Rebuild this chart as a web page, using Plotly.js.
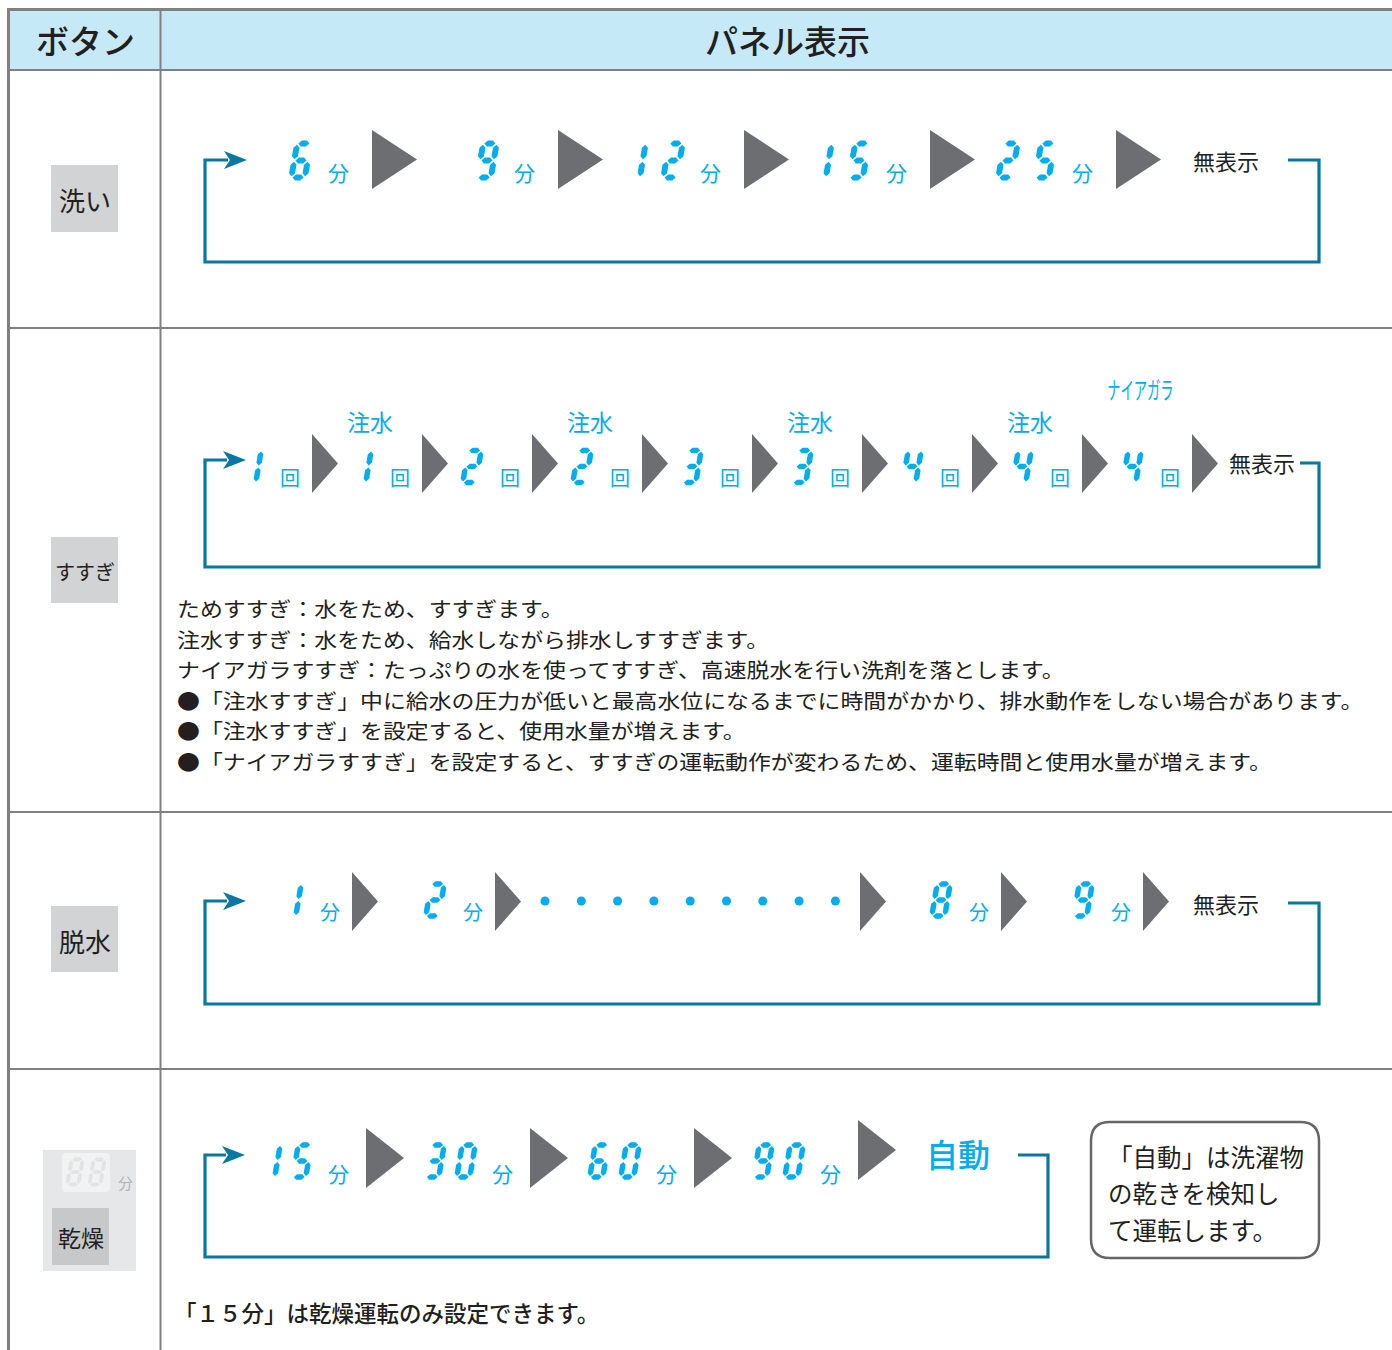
<!DOCTYPE html>
<html><head><meta charset="utf-8">
<script src="https://cdn.plot.ly/plotly-3.0.1.min.js"></script>
<style>body{margin:0;background:#fff}#c{width:1392px;height:1350px}</style>
</head><body><div id="c"></div>
<script>
// ---------- DATA ----------
const headerLabels = ['ボタン', 'パネル表示'];
const buttons = ['洗い', 'すすぎ', '脱水', '乾燥'];
const washSteps = ['6', '9', '12', '15', '25'];
const washUnit = '分';
const rinseSteps = ['1', '1', '2', '2', '3', '3', '4', '4', '4'];
const rinseUnit = '回';
const rinseModes = ['', '注水', '', '注水', '', '注水', '', '注水', 'ナイアガラ'];
const spinSteps = ['1', '2', '…', '8', '9'];
const spinUnit = '分';
const drySteps = ['15', '30', '60', '90'];
const dryUnit = '分';
const endLabel = '無表示';
const dryEnd = '自動';
const rinseNotes = [
  'ためすすぎ：水をため、すすぎます。',
  '注水すすぎ：水をため、給水しながら排水しすすぎます。',
  'ナイアガラすすぎ：たっぷりの水を使ってすすぎ、高速脱水を行い洗剤を落とします。',
  '●「注水すすぎ」中に給水の圧力が低いと最高水位になるまでに時間がかかり、排水動作をしない場合があります。',
  '●「注水すすぎ」を設定すると、使用水量が増えます。',
  '●「ナイアガラすすぎ」を設定すると、すすぎの運転動作が変わるため、運転時間と使用水量が増えます。'
];
const dryBoxLines = ['「自動」は洗濯物', 'の乾きを検知し', 'て運転します。'];
const dryNote = '「１５分」は乾燥運転のみ設定できます。';
const panelDigits = '88';
const panelUnit = '分';

// ---------- STYLE ----------
const FONT = 'Noto Sans CJK JP, Noto Sans, sans-serif';
const CYAN = '#00aeef', LOOP = '#0a77a3', TRI = '#6d6e71', INK = '#231f20', GRID = '#808080';

const shapes = [];
const anns = [];
function ann(text, x, y, size, color, o, weight) {
  o = o || {};
  anns.push(Object.assign({text: text, x: x, y: y, xref: 'x', yref: 'y', showarrow: false,
    xanchor: 'center', yanchor: 'middle', font: {family: FONT, size: size, color: color, weight: weight || 400}}, o));
}
function rect(x0, y0, x1, y1, fill, line) {
  shapes.push({type: 'rect', xref: 'x', yref: 'y', x0: x0, y0: y0, x1: x1, y1: y1,
    fillcolor: fill || 'rgba(0,0,0,0)', line: line || {width: 0}, layer: 'below'});
}
function line(x0, y0, x1, y1, color, w) {
  shapes.push({type: 'line', xref: 'x', yref: 'y', x0: x0, y0: y0, x1: x1, y1: y1, line: {color: color, width: w}});
}
function path(d, fill, lineSpec) {
  shapes.push({type: 'path', xref: 'x', yref: 'y', path: d, fillcolor: fill || 'rgba(0,0,0,0)',
    line: lineSpec || {width: 0}});
}

// seven segment digits
const SEG = {a: [[0,0],[1,0]], b: [[1,0],[1,.5]], c: [[1,.5],[1,1]], d: [[0,1],[1,1]],
             e: [[0,.5],[0,1]], f: [[0,0],[0,.5]], g: [[0,.5],[1,.5]]};
const MAP = {'0':'abcdef','1':'bc','2':'abged','3':'abgcd','4':'fgbc','5':'afgcd',
             '6':'afgedc','7':'abc','8':'abcdefg','9':'abcdfg'};
function digitPath(ch, cx, cy, W, H, t, s) {
  let d = '';
  const segs = MAP[ch] || '';
  const tf = (u, v) => [cx + (u - W/2) + (H/2 - v) * s, cy + (v - H/2)];
  for (const k of segs) {
    const [[a1, b1], [a2, b2]] = SEG[k];
    const P1 = [a1 * W, b1 * H], P2 = [a2 * W, b2 * H];
    const L = Math.hypot(P2[0]-P1[0], P2[1]-P1[1]);
    const dx = (P2[0]-P1[0]) / L, dy = (P2[1]-P1[1]) / L;
    const nx = -dy, ny = dx;
    const gp = t * 0.2, h = t / 2;
    const p1 = [P1[0] + dx*gp, P1[1] + dy*gp], p2 = [P2[0] - dx*gp, P2[1] - dy*gp];
    const pts = [p1,
      [p1[0]+dx*h+nx*h, p1[1]+dy*h+ny*h],
      [p2[0]-dx*h+nx*h, p2[1]-dy*h+ny*h],
      p2,
      [p2[0]-dx*h-nx*h, p2[1]-dy*h-ny*h],
      [p1[0]+dx*h-nx*h, p1[1]+dy*h-ny*h]];
    d += pts.map((p, i) => { const q = tf(p[0], p[1]); return (i ? 'L' : 'M') + q[0].toFixed(2) + ',' + q[1].toFixed(2); }).join('') + 'Z';
  }
  return d;
}
function number(str, onesCx, cy, g, color) {
  const chars = str.split('').reverse();
  chars.forEach((ch, i) => {
    const dp = digitPath(ch, onesCx - i * g.pitch, cy, g.W, g.H, g.t, g.s);
    if (dp) path(dp, color || CYAN);
  });
}
function triangle(x, yc, w, h) {
  path('M' + x + ',' + (yc - h/2) + 'L' + (x + w) + ',' + yc + 'L' + x + ',' + (yc + h/2) + 'Z', TRI);
}
function loop(tipX, y, bottom, right, yEnd, endX) {
  const back = tipX - 19;
  path('M' + back + ',' + y + 'L205,' + y + 'L205,' + bottom + 'L' + right + ',' + bottom +
       'L' + right + ',' + yEnd + 'L' + endX + ',' + yEnd, null, {color: LOOP, width: 3.2});
  path('M' + tipX + ',' + y + 'L' + (tipX - 23) + ',' + (y - 9) + 'L' + (tipX - 17) + ',' + y +
       'L' + (tipX - 23) + ',' + (y + 9) + 'Z', LOOP);
}

// ---------- TABLE ----------
const rowLines = [70, 328, 812, 1069];
rect(9, 10, 1400, 70, '#c6e9f8');
line(7, 9.5, 1400, 9.5, GRID, 3);
line(8.5, 8, 8.5, 1360, GRID, 3);
rowLines.forEach(y => line(8, y, 1400, y, GRID, 2));
line(160.5, 9, 160.5, 1360, GRID, 2);
ann(headerLabels[0], 85, 40, 33, INK, null, 500);
ann(headerLabels[1], 787, 40, 33, INK, null, 500);

// button label boxes
const btnBoxes = [[51, 165, 118, 232], [51, 537, 118, 603], [51, 906, 118, 972]];
const btnSizes = [26, 20, 26];
btnBoxes.forEach((b, i) => {
  rect(b[0], b[1], b[2], b[3], '#d1d3d4');
  ann(buttons[i], (b[0] + b[2]) / 2, (b[1] + b[3]) / 2 + 1, btnSizes[i], INK);
});
// dry panel
rect(43, 1150, 136, 1271, '#e6e7e8');
path('M66,1153L106,1153Q110,1153 110,1157L110,1188Q110,1192 106,1192L66,1192Q62,1192 62,1188L62,1157Q62,1153 66,1153Z', '#f1f2f2');
panelDigits.split('').forEach((ch, i) => {
  path(digitPath(ch, 75 + i * 22, 1172, 11, 25, 4, 0.17), '#e2e3e4');
});
ann(panelUnit, 125, 1182, 15, '#b1b3b6');
rect(52, 1208, 109, 1265, '#c7c8ca');
ann(buttons[3], 80.5, 1237, 23, INK);

// ---------- ROW 1: 洗い ----------
const g1 = {W: 13.5, H: 34, t: 6, s: 0.17, pitch: 37};
washSteps.forEach((v, i) => {
  const T = 372 + i * 186;
  number(v, T - 71, 160.5, g1);
  ann(washUnit, T - 34, 172, 21, CYAN);
  triangle(T, 159.5, 45, 59);
});
ann(endLabel, 1226, 160, 22, INK);
loop(247, 160, 262, 1319, 160, 1288);

// ---------- ROW 2: すすぎ ----------
const g2 = {W: 13, H: 32, t: 5.5, s: 0.17, pitch: 30};
rinseSteps.forEach((v, i) => {
  const T = 312 + i * 110;
  number(v, T - 60, 466.5, g2);
  ann(rinseUnit, T - 22, 477, 20, CYAN);
  triangle(T, 463.5, 26, 59);
  const m = rinseModes[i];
  if (m === '注水') ann(m, T - 52, 421, 23, CYAN);
  else if (m) ann(m, T - 52, 388, 17, CYAN);
});
ann(endLabel, 1262, 462, 22, INK);
loop(246, 460, 567, 1319, 463, 1300);
rinseNotes.forEach((s, i) => ann(s, 175, 608 + i * 30.6, 20.8, INK, {xanchor: 'left'}));

// ---------- ROW 3: 脱水 ----------
const g3 = {W: 13, H: 32, t: 5.5, s: 0.17, pitch: 33};
const spinTri = [352, 495, 860, 1001, 1143];
const dotX = [], dotY = [];
spinSteps.forEach((v, i) => {
  const T = spinTri[i];
  if (v === '…') {
    for (let k = 0; k < 9; k++) { dotX.push(545 + k * 36.3); dotY.push(901); }
  } else {
    number(v, T - 60, 900, g3);
    ann(spinUnit, T - 22, 911, 20, CYAN);
  }
  triangle(T, 901.5, 26, 59);
});
ann(endLabel, 1226, 903, 22, INK);
loop(246, 901, 1004, 1319, 903, 1288);

// ---------- ROW 4: 乾燥 ----------
const g4 = {W: 13, H: 32, t: 5.5, s: 0.17, pitch: 31};
const dryTriY = [1158, 1158, 1158, 1150];
drySteps.forEach((v, i) => {
  const T = 366 + i * 164;
  number(v, T - 64, 1161, g4);
  ann(dryUnit, T - 28, 1173, 21, CYAN);
  triangle(T, dryTriY[i], 38, 60);
});
ann(dryEnd, 958, 1153, 32, CYAN, null, 500);
loop(245, 1155, 1257, 1048, 1155, 1018);
path('M1110,1122L1300,1122Q1319,1122 1319,1141L1319,1239Q1319,1258 1300,1258L1110,1258Q1091,1258 1091,1239L1091,1141Q1091,1122 1110,1122Z',
     '#ffffff', {color: '#666666', width: 2.5});
dryBoxLines.forEach((s, i) => ann(s, 1106, 1156 + i * 36.5, 24.5, INK, {xanchor: 'left'}));
ann(dryNote, 172, 1312, 22.5, INK, {xanchor: 'left'}, 500);

// ---------- PLOT ----------
const traces = [{type: 'scatter', mode: 'markers', x: dotX, y: dotY, hoverinfo: 'skip',
  marker: {color: CYAN, size: 9, line: {width: 0}}}];
const layout = {
  width: 1392, height: 1350, margin: {l: 0, r: 0, t: 0, b: 0},
  paper_bgcolor: '#ffffff', plot_bgcolor: '#ffffff', showlegend: false,
  xaxis: {range: [0, 1392], visible: false, fixedrange: true},
  yaxis: {range: [1350, 0], visible: false, fixedrange: true},
  shapes: shapes, annotations: anns
};
Plotly.newPlot('c', traces, layout, {staticPlot: true, displayModeBar: false}).then(gd => {
  gd.querySelectorAll('.annotation-text').forEach(t => {
    const txt = t.textContent;
    const b = t.getBBox();
    if (txt === rinseModes[8]) {
      // condensed LCD-style lettering for the Niagara label
      const cx = b.x + b.width / 2, cy = b.y + b.height / 2;
      t.setAttribute('transform', 'translate(' + cx + ',' + cy + ') scale(0.78,1.4) translate(' + (-cx) + ',' + (-cy) + ')');
    } else if (rinseNotes.indexOf(txt) >= 0) {
      // the printed notes use a slightly wide glyph pitch
      const lx = b.x;
      t.setAttribute('transform', 'translate(' + lx + ',0) scale(1.1,1) translate(' + (-lx) + ',0)');
    }
  });
});
</script></body></html>
